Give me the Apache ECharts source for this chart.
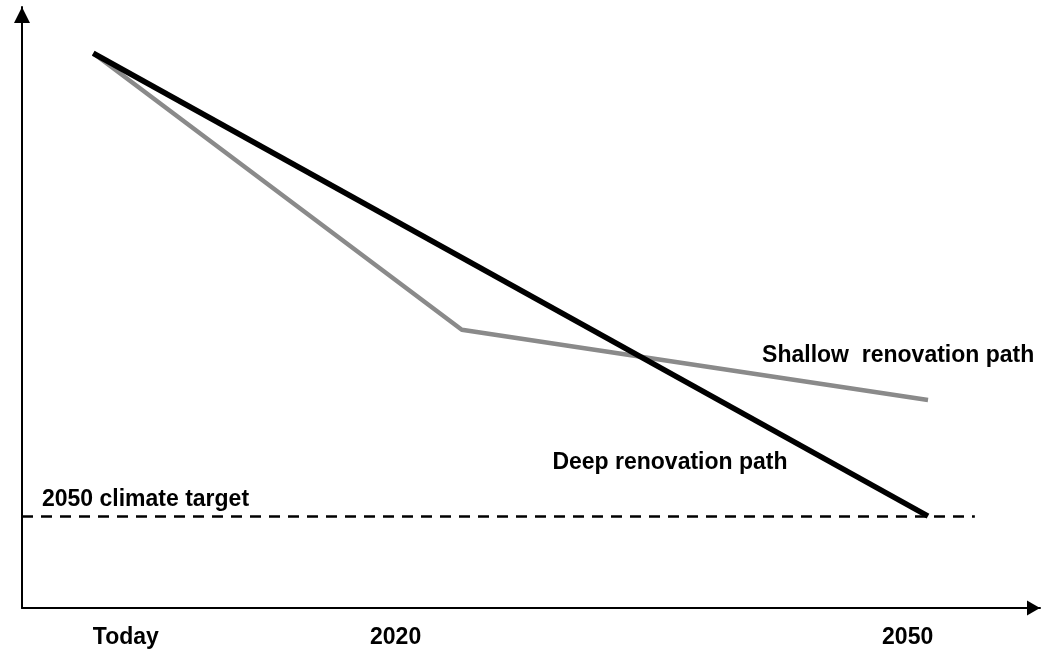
<!DOCTYPE html>
<html>
<head>
<meta charset="utf-8">
<script src="https://cdn.jsdelivr.net/npm/echarts@6/dist/echarts.min.js"></script>
<style>html,body{margin:0;padding:0;background:#fff}#c{width:1042px;height:650px}</style>
</head>
<body>
<div id="c"></div>
<script>
// Data (arbitrary index units, 0..100 on both axes)
const tickValues = [10.2, 36.7, 87.0];
const tickLabels = ['Today', '2020', '2050'];
const deepPath = [[7.0, 92.3], [89.0, 15.3]];
const shallowPath = [[7.0, 92.3], [43.2, 46.3], [89.0, 34.6]];
const targetLevel = 15.3;
const targetSpan = [0, 93.6];
const deepName = 'Deep renovation path';
const shallowName = 'Shallow  renovation path';
const targetName = '2050 climate target';

const font = '"Liberation Sans", Arial, sans-serif';
const labelStyle = {fontFamily: font, fontWeight: 'bold', fontSize: 23, color: '#000'};

function annotation(coord, text) {
  return {
    coord: coord, symbol: 'circle', symbolSize: 1,
    itemStyle: {color: 'rgba(0,0,0,0)'},
    label: Object.assign({show: true, position: 'inside', align: 'left', verticalAlign: 'middle', formatter: text}, labelStyle)
  };
}

const chart = echarts.init(document.getElementById('c'), null, {renderer: 'canvas'});
chart.setOption({
  animation: false,
  backgroundColor: '#fff',
  grid: {left: 22, right: 2, top: 7, bottom: 42},
  xAxis: {
    type: 'value', min: 0, max: 100,
    splitLine: {show: false},
    axisLine: {lineStyle: {color: '#000', width: 2}, symbol: ['none', 'triangle'], symbolSize: [15, 13], symbolOffset: [0, -6.5]},
    axisTick: {show: false},
    axisLabel: Object.assign({
      customValues: tickValues,
      margin: 18,
      formatter: function (v) { const i = tickValues.indexOf(v); return i >= 0 ? tickLabels[i] : ''; }
    }, labelStyle)
  },
  yAxis: {
    type: 'value', min: 0, max: 100,
    splitLine: {show: false},
    axisLine: {show: true, lineStyle: {color: '#000', width: 2}, symbol: ['none', 'triangle'], symbolSize: [16, 16], symbolOffset: [0, -8]},
    axisTick: {show: false},
    axisLabel: {show: false}
  },
  series: [
    {
      name: shallowName, type: 'line', data: shallowPath, showSymbol: false, symbol: 'none',
      lineStyle: {color: '#8a8a8a', width: 4.5}, z: 2,
      markPoint: {silent: true, data: [annotation([72.7, 42.0], shallowName)]}
    },
    {
      name: deepName, type: 'line', data: deepPath, showSymbol: false, symbol: 'none',
      lineStyle: {color: '#000', width: 5.5}, z: 3,
      markPoint: {silent: true, data: [annotation([52.1, 24.2], deepName)]}
    },
    {
      name: targetName, type: 'line', data: [], z: 1,
      markLine: {
        silent: true, symbol: ['none', 'none'],
        label: {show: false},
        lineStyle: {color: '#000', width: 2.5, type: [11, 8]},
        data: [[{coord: [targetSpan[0], targetLevel]}, {coord: [targetSpan[1], targetLevel]}]]
      },
      markPoint: {silent: true, data: [annotation([1.96, 18.0], targetName)]}
    }
  ]
});
</script>
</body>
</html>
